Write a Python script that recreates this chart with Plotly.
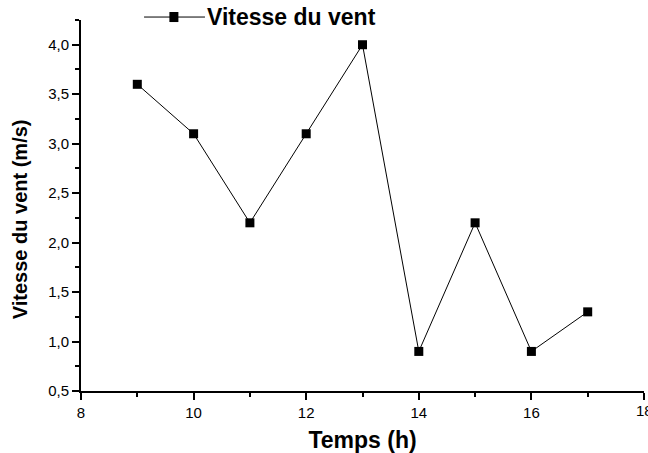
import plotly.graph_objects as go

hours = [9, 10, 11, 12, 13, 14, 15, 16, 17]
wind_speed = [3.6, 3.1, 2.2, 3.1, 4.0, 0.9, 2.2, 0.9, 1.3]
series_name = "Vitesse du vent"
x_title = "Temps (h)"
y_title = "Vitesse du vent (m/s)"
x_range = [8, 18]
y_range = [0.5, 4.25]

FONT = "Liberation Sans, Arial, sans-serif"

fig = go.Figure()
fig.add_trace(go.Scatter(
    x=hours, y=wind_speed, mode="lines+markers", name=series_name,
    line=dict(color="black", width=1),
    marker=dict(symbol="square", size=9, color="black"),
    showlegend=False, cliponaxis=False,
))

# manual legend (line + square + text)
fig.add_shape(type="line", xref="paper", yref="paper", x0=0.112, x1=0.2202, y0=1.008, y1=1.008,
              line=dict(color="black", width=1))
fig.add_shape(type="rect", xref="paper", yref="paper", x0=0.157, x1=0.173, y0=0.9945, y1=1.0215,
              line=dict(width=0), fillcolor="black")
fig.add_annotation(text="<b>" + series_name + "</b>", xref="paper", yref="paper", x=0.221, y=1.008,
                   xanchor="left", yanchor="middle", showarrow=False,
                   font=dict(family=FONT, size=23, color="black"))

# y-axis title (placed slightly below the plot centre, as in the reference)
fig.add_annotation(text="<b>" + y_title + "</b>", xref="paper", yref="paper", x=-0.108, y=0.4636,
                   xanchor="center", yanchor="middle", textangle=-90, showarrow=False,
                   font=dict(family=FONT, size=20, color="black"))

# last x tick label, which sits partly outside the page (as in the reference)
fig.add_annotation(text=str(x_range[1]), xref="x", yref="paper", x=x_range[1], y=0,
                   xanchor="center", yanchor="top", yshift=-9, showarrow=False,
                   font=dict(family=FONT, size=15, color="black"))

axis_common = dict(
    showgrid=False, zeroline=False, showline=True, linecolor="black", linewidth=2,
    ticks="outside", ticklen=7, tickwidth=1.5, tickcolor="black",
    tickfont=dict(family=FONT, size=15, color="black"), mirror=False,
)

fig.update_xaxes(range=x_range, dtick=2, tick0=8,
                 minor=dict(ticks="outside", ticklen=4, tickwidth=1.5, tickcolor="black", dtick=1, tick0=8),
                 title=dict(text="<b>" + x_title + "</b>", font=dict(family=FONT, size=23, color="black"), standoff=12),
                 **axis_common)
fig.update_yaxes(range=y_range, dtick=0.5, tick0=0.5, tickformat=".1f",
                 minor=dict(ticks="outside", ticklen=4, tickwidth=1.5, tickcolor="black", dtick=0.25, tick0=0.5),
                 **axis_common)

fig.update_layout(
    width=648, height=453,
    margin=dict(l=81, r=4, t=20, b=62),
    plot_bgcolor="white", paper_bgcolor="white",
    separators=", ",
    font=dict(family=FONT, color="black"),
)

fig.write_html("out.html")
